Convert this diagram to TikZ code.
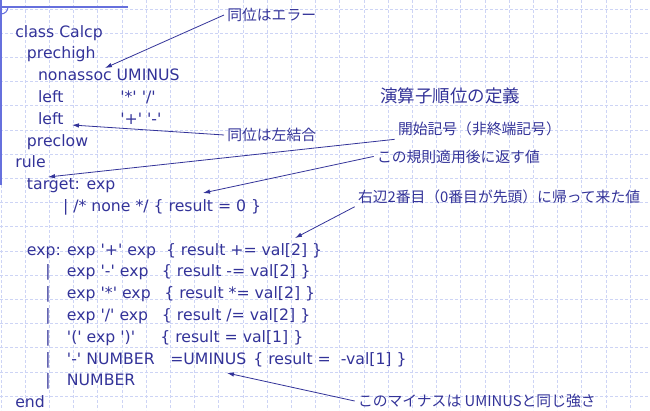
\documentclass[tikz,border=0pt]{standalone}
\usepackage{fontspec}
\usepackage{xcolor}
\usepackage{tikz}
\usetikzlibrary{arrows.meta}
\newfontfamily\codefont{DejaVu Sans}
\newfontfamily\jpfont{Noto Sans CJK JP}
\definecolor{ink}{RGB}{51,51,153}
\definecolor{gridc}{RGB}{205,212,245}
\definecolor{framec}{RGB}{102,112,221}

\begin{document}
\begin{tikzpicture}[x=1pt,y=-1pt,-,semithick]
  \tikzstyle{code}=[anchor=base west, inner sep=0pt, text=ink, font=\codefont\fontsize{15.7}{18}\selectfont]
  \tikzstyle{note}=[anchor=base west, inner sep=3pt, text=ink, font=\jpfont\fontsize{14.8}{17}\selectfont]
  \tikzstyle{pointer}=[-{Latex[length=7pt,width=4.5pt]}, draw=ink, line width=0.8pt]
  \useasboundingbox (0,0) rectangle (650,410);
  \fill[white] (0,0) rectangle (650,410);

  % dashed grid
  \foreach \i in {0,...,26}{
    \draw[gridc, line width=0.8pt, dash pattern=on 3pt off 2pt] (0.9+24.2*\i,0) -- (0.9+24.2*\i,410);
  }
  \foreach \j in {0,...,16}{
    \draw[gridc, line width=0.8pt, dash pattern=on 3pt off 2pt] (0,9+24.2*\j) -- (650,9+24.2*\j);
  }
  % corner frame
  \draw[framec, line width=1.2pt] (0,7) -- (128,7);
  \draw[framec, line width=1.2pt] (1,0) -- (1,185);
  \draw[framec, line width=1pt] (8,7) arc[start angle=0, end angle=90, radius=7];

  % grammar
  \node[code] (cls) at (15,37) {class Calcp};
  \node[code] (high) at (26.7,58.8) {prechigh};
  \node[code] (nonassoc) at (37.7,80.6) {nonassoc UMINUS};
  \node[code] (lmul) at (37.7,102.4) {\makebox[82.3pt][l]{left}'*' '/'};
  \node[code] (ladd) at (37.7,124.2) {\makebox[82.3pt][l]{left}'+' '-'};
  \node[code] (low) at (26.7,146) {preclow};
  \node[code] (rule) at (15,167.8) {rule};
  \node[code] (target) at (26.7,189.6) {target: exp};
  \node[code] (none) at (62.7,211.4) {| /* none */ \{ result = 0 \}};
  \node[code] (eplus) at (26.7,255) {\makebox[40pt][l]{exp:}\makebox[99pt][l]{exp '+' exp}\{ result += val[2] \}};
  \node[code] (eminus) at (45,276.8) {\makebox[21.7pt][l]{|}\makebox[95pt][l]{exp '-' exp}\{ result -= val[2] \}};
  \node[code] (etimes) at (45,298.6) {\makebox[21.7pt][l]{|}\makebox[97.3pt][l]{exp '*' exp}\{ result *= val[2] \}};
  \node[code] (ediv) at (45,320.4) {\makebox[21.7pt][l]{|}\makebox[95pt][l]{exp '/' exp}\{ result /= val[2] \}};
  \node[code] (eparen) at (45,342.2) {\makebox[21.7pt][l]{|}\makebox[93.3pt][l]{'(' exp ')'}\{ result = val[1] \}};
  \node[code] (eneg) at (45,364) {\makebox[21.7pt][l]{|}\makebox[103.3pt][l]{'-' NUMBER}\makebox[83pt][l]{=UMINUS}\{ result = \ -val[1] \}};
  \node[code] (enum) at (45,385.8) {\makebox[21.7pt][l]{|}NUMBER};
  \node[code] (theend) at (15,407.6) {end};

  % notes
  \node[note] (nerr) at (224,20.6) {同位はエラー};
  \node[note, font=\jpfont\fontsize{17.5}{20}\selectfont] (nhead) at (377,102.6) {演算子順位の定義};
  \node[note] (nleft) at (224,140.6) {同位は左結合};
  \node[note] (nstart) at (394.7,134.6) {開始記号（非終端記号）};
  \node[note] (nret) at (373.7,162) {この規則適用後に返す値};
  \node[note] (nval) at (354.7,202) {右辺2番目（0番目が先頭）に帰って来た値};
  \node[note] (nminus) at (354.7,406.6) {このマイナスは UMINUSと同じ強さ};

  \coordinate (tnon) at (105,68);
  \coordinate (tleft) at (72,125);
  \coordinate (ttarget) at (48,177);
  \coordinate (tret) at (203,193);
  \coordinate (tval) at (295,238);
  \coordinate (tminus) at (227,373);

  \draw[pointer] (nerr.west) -- (tnon);
  \draw[pointer] (nleft.west) -- (tleft);
  \draw[pointer] (nstart.south west) -- (ttarget);
  \draw[pointer] (nret.west) -- (tret);
  \draw[pointer] (nval.south west) -- (tval);
  \draw[pointer] (nminus.west) -- (tminus);
\end{tikzpicture}
\end{document}
